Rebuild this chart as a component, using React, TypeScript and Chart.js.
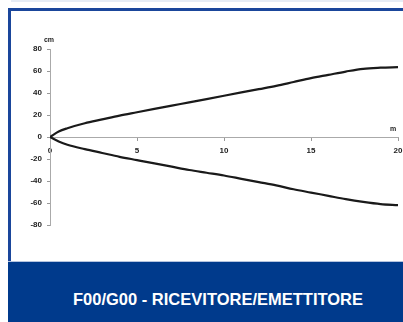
import React, { useEffect, useRef } from "react";
import { Chart, registerables } from "chart.js";

Chart.register(...registerables);

const distances = [0, 0.5, 1, 2, 3, 4, 5, 6, 7, 8, 9, 10, 11, 12, 13, 14, 15, 16, 17, 18, 19, 20];
const upperCm = [0, 5, 8, 12.5, 16, 19.5, 22.5, 25.5, 28.5, 31.5, 34.5, 37.5, 40.5, 43.5, 46.5, 50, 53.5, 56.5, 59.5, 62, 63, 63.5];
const lowerCm = [0, -4, -7, -11, -14.5, -18, -21, -24, -27, -30, -32.5, -35, -38, -41, -44, -47.5, -50.5, -53.5, -56.5, -59, -61, -62];
const xTickValues = [0, 5, 10, 15, 20];
const yTickValues = [-80, -60, -40, -20, 0, 20, 40, 60, 80];
const xUnit = "m";
const yUnit = "cm";
const caption = "F00/G00 - RICEVITORE/EMETTITORE";

const FONT = '"Liberation Sans", Arial, sans-serif';

const unitLabels = {
  id: "unitLabels",
  afterDraw(chart: any) {
    const { ctx, chartArea, scales } = chart;
    ctx.save();
    ctx.fillStyle = "#222";
    ctx.font = `bold 7px ${FONT}`;
    ctx.textAlign = "center";
    ctx.textBaseline = "middle";
    ctx.fillText(yUnit, chartArea.left - 1, chartArea.top - 9);
    const y0 = scales.y.getPixelForValue(0);
    ctx.fillText(xUnit, chartArea.right - 5, y0 - 8);
    ctx.restore();
  },
};

export default function App() {
  const ref = useRef<HTMLCanvasElement | null>(null);

  useEffect(() => {
    if (!ref.current) return;
    const mk = (vals: number[]) => distances.map((d, i) => ({ x: d, y: vals[i] }));
    const lineStyle = {
      borderColor: "#1a1a1a",
      borderWidth: 2.2,
      pointRadius: 0,
      showLine: true,
      fill: false,
      cubicInterpolationMode: "monotone" as const,
    };
    const chart = new Chart(ref.current, {
      type: "scatter",
      data: {
        datasets: [
          { label: "upper", data: mk(upperCm), ...lineStyle },
          { label: "lower", data: mk(lowerCm), ...lineStyle },
        ],
      },
      options: {
        responsive: false,
        animation: false,
        layout: { padding: { top: 38, bottom: 36, left: 0, right: 5 } },
        plugins: { legend: { display: false }, tooltip: { enabled: false } },
        scales: {
          x: {
            type: "linear",
            position: { y: 0 } as any,
            min: 0,
            max: 20,
            afterBuildTicks: (s: any) => {
              s.ticks = xTickValues.map((v) => ({ value: v }));
            },
            afterFit: (s: any) => {
              s.paddingLeft = 0;
              s.paddingRight = 0;
            },
            grid: { drawOnChartArea: false, drawTicks: true, tickLength: 3, color: "#999" },
            border: { display: true, color: "#aaa", width: 1 },
            ticks: {
              color: "#222",
              font: { family: FONT, size: 8, weight: "bold" },
              padding: 6,
              maxRotation: 0,
              autoSkip: false,
            },
          },
          y: {
            type: "linear",
            position: "left",
            min: -80,
            max: 80,
            afterBuildTicks: (s: any) => {
              s.ticks = yTickValues.map((v) => ({ value: v }));
            },
            afterFit: (s: any) => {
              s.width = 39;
              s.paddingTop = 0;
              s.paddingBottom = 0;
            },
            grid: { drawOnChartArea: false, drawTicks: true, tickLength: 3, color: "#999" },
            border: { display: true, color: "#aaa", width: 1 },
            ticks: {
              color: "#222",
              font: { family: FONT, size: 8, weight: "bold" },
              padding: 5,
              autoSkip: false,
            },
          },
        },
      },
      plugins: [unitLabels],
    });
    return () => chart.destroy();
  }, []);

  return (
    <div
      style={{
        position: "fixed",
        left: 0,
        top: 0,
        width: 403,
        height: 322,
        background: "#fff",
        overflow: "hidden",
      }}
    >
      <div style={{ position: "absolute", left: 11, top: 0, width: 392, height: 2, background: "#e6ecf5" }} />
      <div
        style={{
          position: "absolute",
          left: 8,
          top: 8,
          width: 395,
          height: 253,
          borderTop: "3px solid #1a469b",
          borderLeft: "3px solid #1a469b",
          boxSizing: "border-box",
        }}
      />
      <canvas
        ref={ref}
        width={392}
        height={250}
        style={{ position: "absolute", left: 11, top: 11, width: 392, height: 250 }}
      />
      <div
        style={{
          position: "absolute",
          left: 8,
          top: 261,
          width: 395,
          height: 61,
          background: "#003a8c",
          borderTop: "1px solid #b4c3de",
          boxSizing: "border-box",
        }}
      />
      <div
        style={{
          position: "absolute",
          left: 73,
          top: 289,
          color: "#fff",
          fontFamily: FONT,
          fontWeight: "bold",
          fontSize: 16.5,
          lineHeight: "20px",
          whiteSpace: "nowrap",
        }}
      >
        {caption}
      </div>
    </div>
  );
}
